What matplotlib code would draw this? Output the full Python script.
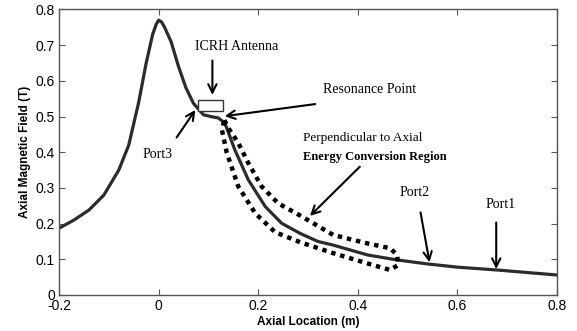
import matplotlib
matplotlib.use("Agg")
import matplotlib.pyplot as plt
from matplotlib.patches import Rectangle

# axial field profile
axial_x = [-0.2, -0.17, -0.14, -0.11, -0.08, -0.06, -0.04, -0.025, -0.012, -0.005,
           0.0, 0.006, 0.012, 0.025, 0.04, 0.055, 0.07, 0.09, 0.105, 0.12,
           0.133, 0.153, 0.18, 0.214, 0.247, 0.285, 0.32, 0.35, 0.42, 0.48,
           0.54, 0.6, 0.68, 0.74, 0.8]
field_b = [0.187, 0.21, 0.238, 0.28, 0.35, 0.42, 0.54, 0.65, 0.73, 0.758,
           0.77, 0.765, 0.75, 0.71, 0.64, 0.58, 0.537, 0.505, 0.50, 0.496,
           0.482, 0.407, 0.323, 0.248, 0.201, 0.172, 0.150, 0.140, 0.112, 0.098,
           0.087, 0.078, 0.070, 0.063, 0.056]

# dotted outline of the energy conversion region
region_x = [0.132, 0.140, 0.160, 0.180, 0.207, 0.240, 0.285, 0.351, 0.418, 0.465,
            0.479, 0.481, 0.465, 0.418, 0.351, 0.284, 0.234, 0.194, 0.160, 0.137,
            0.127, 0.132]
region_y = [0.490, 0.468, 0.426, 0.370, 0.304, 0.257, 0.222, 0.168, 0.145, 0.131,
            0.112, 0.084, 0.070, 0.089, 0.117, 0.148, 0.176, 0.229, 0.304, 0.398,
            0.463, 0.490]

x_ticks = [-0.2, 0, 0.2, 0.4, 0.6, 0.8]
x_tick_labels = ["-0.2", "0", "0.2", "0.4", "0.6", "0.8"]
y_ticks = [0, 0.1, 0.2, 0.3, 0.4, 0.5, 0.6, 0.7, 0.8]
y_tick_labels = ["0", "0.1", "0.2", "0.3", "0.4", "0.5", "0.6", "0.7", "0.8"]

fig = plt.figure(figsize=(5.77, 3.31), dpi=100)
ax = fig.add_axes([0.1023, 0.1088, 0.863, 0.8625])

ax.plot(axial_x, field_b, color="#2b2b2b", lw=2.3, solid_capstyle="round",
        solid_joinstyle="round")
ax.plot(region_x, region_y, color="black", lw=3.2, linestyle=(0, (1, 1.1)),
        dash_capstyle="butt")

# antenna box
ax.add_patch(Rectangle((0.079, 0.516), 0.050, 0.029, facecolor="white",
                       edgecolor="#333333", lw=1.0, zorder=3))

serif = "Liberation Serif"
arrow = dict(arrowstyle="->", color="black", lw=1.5, mutation_scale=15)

ax.annotate("", xy=(0.108, 0.553), xytext=(0.108, 0.665), arrowprops=arrow)
ax.text(0.157, 0.695, "ICRH Antenna", family=serif, fontsize=10,
        ha="center", va="center")

ax.annotate("", xy=(0.077, 0.525), xytext=(0.033, 0.435), arrowprops=arrow)
ax.text(-0.003, 0.393, "Port3", family=serif, fontsize=10, ha="center", va="center")

ax.annotate("", xy=(0.127, 0.500), xytext=(0.320, 0.536), arrowprops=arrow)
ax.text(0.330, 0.575, "Resonance Point", family=serif, fontsize=10,
        ha="left", va="center")

ax.annotate("", xy=(0.300, 0.216), xytext=(0.408, 0.365), arrowprops=arrow)
ax.text(0.290, 0.441, "Perpendicular to Axial", family=serif, fontsize=9.5,
        ha="left", va="center")
ax.text(0.290, 0.387, "Energy Conversion Region", family=serif, fontsize=9,
        fontweight="bold", ha="left", va="center")

ax.annotate("", xy=(0.545, 0.084), xytext=(0.525, 0.239), arrowprops=arrow)
ax.text(0.515, 0.286, "Port2", family=serif, fontsize=10, ha="center", va="center")

ax.annotate("", xy=(0.678, 0.065), xytext=(0.678, 0.211), arrowprops=arrow)
ax.text(0.686, 0.253, "Port1", family=serif, fontsize=10, ha="center", va="center")

ax.set_xlim(-0.2, 0.8)
ax.set_ylim(0, 0.8)
ax.set_xticks(x_ticks)
ax.set_xticklabels(x_tick_labels)
ax.set_yticks(y_ticks)
ax.set_yticklabels(y_tick_labels)
ax.tick_params(direction="in", length=4, width=0.8, color="#555555",
               top=True, right=True, labelsize=10, pad=3)
for lbl in ax.get_xticklabels() + ax.get_yticklabels():
    lbl.set_family("Liberation Sans")
for s in ax.spines.values():
    s.set_color("#555555")
    s.set_linewidth(1.0)

ax.set_xlabel("Axial Location (m)", family="Liberation Sans", fontsize=8.5,
              fontweight="bold", labelpad=2)
ax.set_ylabel("Axial Magnetic Field (T)", family="Liberation Sans", fontsize=8.5,
              fontweight="bold", labelpad=3)

fig.savefig("out.png", dpi=100)
